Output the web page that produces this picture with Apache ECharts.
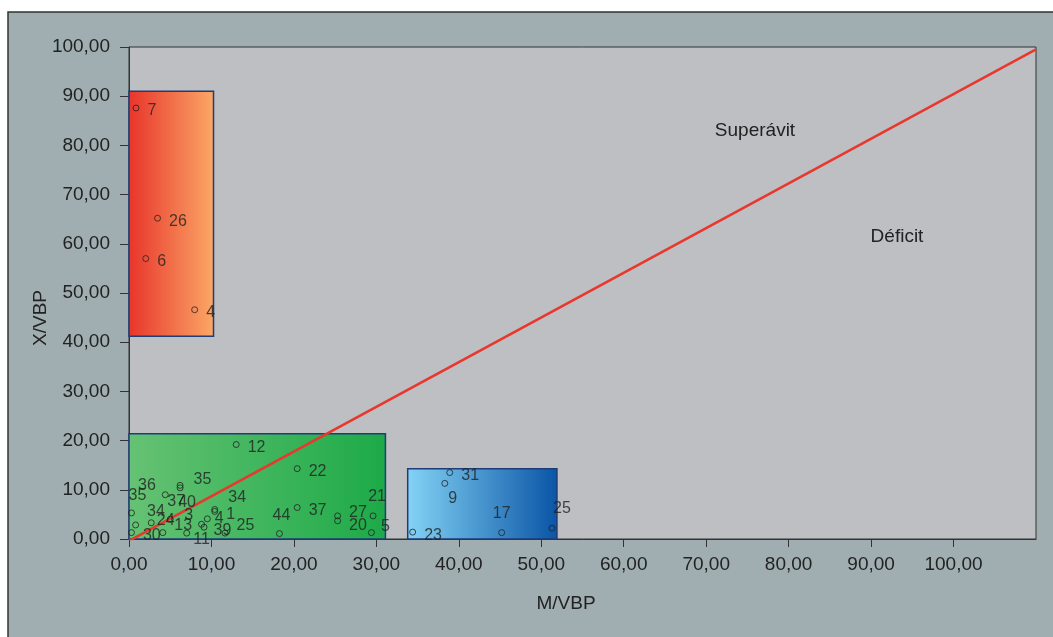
<!DOCTYPE html>
<html>
<head>
<meta charset="utf-8">
<script src="https://cdn.jsdelivr.net/npm/echarts@6/dist/echarts.min.js"></script>
<style>
html, body { margin: 0; padding: 0; background: #fff; }
#main { width: 1053px; height: 637px; }
</style>
</head>
<body>
<div id="main"></div>
<script>
// 数据: 每组点的名字与坐标 (M/VBP, X/VBP)
var redNames = ['7', '26', '6', '4'];
var redX = [0.85, 3.46, 2.03, 7.96];
var redY = [87.6, 65.2, 57.0, 46.6];

var greenNames = ['12', '22', '37', '27', '20', '21', '5', '44', '36', '35', '40', '35', '34', '30', '24', '37', '13', '3', '11', '1', '4', '34', '39', '25'];
var greenX = [13.0, 20.4, 20.4, 25.3, 25.3, 29.6, 29.4, 18.25, 4.4, 6.2, 6.2, 0.3, 0.8, 0.3, 2.7, 5.0, 4.1, 7.0, 8.8, 10.4, 9.5, 10.4, 9.1, 11.65];
var greenY = [19.2, 14.3, 6.4, 4.7, 3.7, 4.7, 1.3, 1.1, 9.0, 10.9, 10.4, 5.3, 2.85, 1.3, 3.3, 4.0, 1.3, 1.2, 3.0, 5.6, 4.1, 6.0, 2.4, 1.2];

var blueNames = ['31', '9', '23', '17', '25'];
var blueX = [38.9, 38.3, 34.4, 45.2, 51.3];
var blueY = [13.5, 11.3, 1.4, 1.3, 2.2];

// 三个区域 [x0, y0, x1, y1]
var redBox = [0, 41.2, 10.25, 91.0];
var greenBox = [0, 0, 31.1, 21.4];
var blueBox = [33.8, 0, 51.9, 14.3];

// 对角线
var diagonal = [[0, -0.4], [110, 99.5]];

// 刻度
var xTickValues = [0, 10, 20, 30, 40, 50, 60, 70, 80, 90, 100];
var xRange = [0, 110];
var yRange = [0, 100];
var yStep = 10;

// 标签位置 (只列出非默认的)
var labelPlace = {
    'b:1': { position: 'bottom', offset: [8, -4] },
    'b:3': { position: 'top', offset: [0, 0] },
    'b:4': { position: 'top', offset: [10, 0] },
    'g:3': { offset: [0, -3] },
    'g:4': { offset: [0, 5] },
    'g:5': { position: 'top', offset: [4, 0] },
    'g:6': { offset: [-2, -6] },
    'g:7': { position: 'top', offset: [2, 2] },
    'g:8': { position: 'left', offset: [2, -9] },
    'g:9': { offset: [2, -6] },
    'g:10': { position: 'bottom', offset: [7, -5] },
    'g:11': { position: 'top', offset: [6, 2] },
    'g:12': { offset: [0, -13] },
    'g:14': { offset: [-6, -2] },
    'g:15': { position: 'top', offset: [6, 2] },
    'g:16': { offset: [0, -7] },
    'g:17': { position: 'top', offset: [2, 2] },
    'g:18': { position: 'bottom', offset: [0, -4] },
    'g:20': { offset: [-4, 0] },
    'g:21': { offset: [2, -12] },
    'g:22': { offset: [-2, 3] },
    'g:23': { offset: [0, -8] }
};

function buildPoints(key, names, xs, ys) {
    return names.map(function (n, i) {
        var item = { name: n, value: [xs[i], ys[i]] };
        var p = labelPlace[key + ':' + i];
        if (p) item.label = p;
        return item;
    });
}

function boxArea(b, c0, c1) {
    return [
        {
            coord: [b[0], b[1]],
            itemStyle: {
                color: new echarts.graphic.LinearGradient(0, 0, 1, 0, [
                    { offset: 0, color: c0 },
                    { offset: 1, color: c1 }
                ])
            }
        },
        { coord: [b[2], b[3]] }
    ];
}

function fmt(v) {
    return Number(v).toFixed(2).replace('.', ',');
}

var myChart = echarts.init(document.getElementById('main'));

var font = 'Liberation Sans, Arial, sans-serif';

var pointLabel = {
    show: true,
    position: 'right',
    distance: 8,
    offset: [0, 3],
    formatter: '{b}',
    color: '#222',
    fontSize: 16,
    fontFamily: font
};

var pointStyle = {
    type: 'scatter',
    symbol: 'circle',
    symbolSize: 6,
    itemStyle: { color: 'rgba(0,0,0,0)', borderColor: '#222', borderWidth: 1 },
    label: pointLabel,
    z: 5
};

var option = {
    backgroundColor: '#fff',
    animation: false,
    graphic: [
        {
            type: 'rect',
            z: -10,
            shape: { x: 8, y: 12, width: 1100, height: 700 },
            style: { fill: '#a0aeb2', stroke: '#333', lineWidth: 1.5 }
        },
        {
            type: 'text', x: 566, y: 604, z: 100,
            style: { text: 'M/VBP', fill: '#222', fontSize: 19, fontFamily: font, align: 'center', verticalAlign: 'middle' }
        },
        {
            type: 'text', x: 41, y: 318, rotation: Math.PI / 2, z: 100,
            style: { text: 'X/VBP', fill: '#222', fontSize: 19, fontFamily: font, align: 'center', verticalAlign: 'middle' }
        },
        {
            type: 'text', x: 755, y: 131, z: 100,
            style: { text: 'Superávit', fill: '#222', fontSize: 19, fontFamily: font, align: 'center', verticalAlign: 'middle' }
        },
        {
            type: 'text', x: 897, y: 237, z: 100,
            style: { text: 'Déficit', fill: '#222', fontSize: 19, fontFamily: font, align: 'center', verticalAlign: 'middle' }
        }
    ],
    grid: {
        left: 129,
        right: 17,
        top: 47,
        bottom: 98,
        show: true,
        backgroundColor: '#bebfc3',
        borderColor: '#333',
        borderWidth: 1
    },
    xAxis: {
        type: 'value',
        min: xRange[0],
        max: xRange[1],
        splitLine: { show: false },
        axisLine: { lineStyle: { color: '#333', width: 1 } },
        axisTick: { show: true, length: 8, customValues: xTickValues, lineStyle: { color: '#333' } },
        axisLabel: {
            margin: 16,
            color: '#222',
            fontSize: 19,
            fontFamily: font,
            customValues: xTickValues,
            formatter: fmt
        }
    },
    yAxis: {
        type: 'value',
        min: yRange[0],
        max: yRange[1],
        interval: yStep,
        splitLine: { show: false },
        axisLine: { lineStyle: { color: '#333', width: 1 } },
        axisTick: { show: true, length: 9, lineStyle: { color: '#333' } },
        axisLabel: {
            margin: 19,
            color: '#222',
            fontSize: 19,
            fontFamily: font,
            formatter: fmt
        }
    },
    series: [
        {
            // 背景色块
            type: 'scatter',
            data: [],
            z: 1,
            silent: true,
            markArea: {
                silent: true,
                label: { show: false },
                itemStyle: { borderColor: '#1d3d78', borderWidth: 1.5, opacity: 1 },
                data: [
                    boxArea(redBox, '#e8342b', '#fba867'),
                    boxArea(greenBox, '#66c274', '#1daa48'),
                    boxArea(blueBox, '#84d3f5', '#0a55a6')
                ]
            }
        },
        {
            type: 'line',
            data: diagonal,
            symbol: 'none',
            z: 3,
            lineStyle: { color: '#e8382e', width: 2.5 }
        },
        Object.assign({ name: 'red', data: buildPoints('r', redNames, redX, redY) }, pointStyle),
        Object.assign({ name: 'green', data: buildPoints('g', greenNames, greenX, greenY) }, pointStyle),
        Object.assign({ name: 'blue', data: buildPoints('b', blueNames, blueX, blueY) }, pointStyle)
    ]
};

myChart.setOption(option);
</script>
</body>
</html>
